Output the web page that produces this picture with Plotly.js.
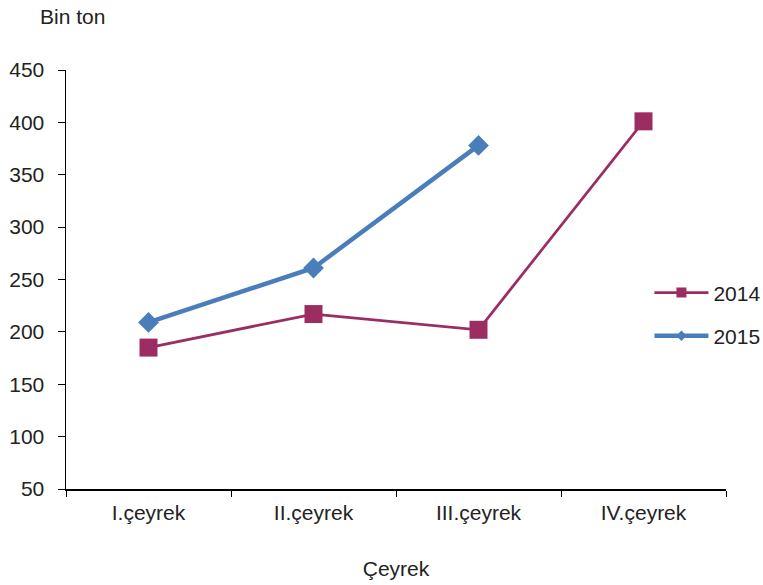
<!DOCTYPE html>
<html>
<head>
<meta charset="utf-8">
<script src="https://cdn.plot.ly/plotly-3.0.1.min.js"></script>
<style>html,body{margin:0;padding:0;background:#fff}#chart{width:763px;height:585px}</style>
</head>
<body>
<div id="chart"></div>
<script>
var categories = ["I.çeyrek", "II.çeyrek", "III.çeyrek", "IV.çeyrek"];
var values2014 = [185, 217, 202, 401];
var values2015 = [209, 261, 378];
var yTicks = [50, 100, 150, 200, 250, 300, 350, 400, 450];

var font = "Liberation Sans, Arial, sans-serif";
var c2014 = "#9B2D62", c2015 = "#4A7EBB";
var traces = [
  {
    x: categories, y: values2014, name: "2014", type: "scatter", mode: "lines+markers",
    line: {color: c2014, width: 2.7},
    marker: {symbol: "square", size: 18, color: c2014},
    showlegend: false
  },
  {
    x: categories.slice(0, values2015.length), y: values2015, name: "2015", type: "scatter", mode: "lines+markers",
    line: {color: c2015, width: 4.5},
    marker: {symbol: "diamond", size: 16, color: c2015},
    showlegend: false
  },
  {
    x: [null], y: [null], name: "2014", type: "scatter", mode: "lines+markers",
    line: {color: c2014, width: 2.7},
    marker: {symbol: "square", size: 10, color: c2014},
    legend: "legend"
  },
  {
    x: [null], y: [null], name: "2015", type: "scatter", mode: "lines+markers",
    line: {color: c2015, width: 4.5},
    marker: {symbol: "diamond", size: 8, color: c2015},
    legend: "legend2"
  }
];

var legendStyle = {
  x: 0.884, xanchor: "left", yanchor: "middle",
  font: {family: font, size: 21, color: "#222"},
  bgcolor: "rgba(0,0,0,0)", itemwidth: 54
};

var layout = {
  width: 763, height: 585,
  margin: {l: 66, r: 37, t: 70, b: 96, autoexpand: false},
  paper_bgcolor: "#fff", plot_bgcolor: "#fff",
  font: {family: font, size: 21, color: "#222"},
  showlegend: true,
  legend: Object.assign({}, legendStyle, {y: 0.468}),
  legend2: Object.assign({}, legendStyle, {y: 0.365}),
  xaxis: {
    type: "category", range: [-0.5, 3.5],
    showline: true, linecolor: "#000", linewidth: 1.5,
    ticks: "outside", tickson: "boundaries", ticklen: 6, tickcolor: "#000",
    ticklabelstandoff: 4,
    showgrid: false, zeroline: false,
    tickfont: {family: font, size: 21, color: "#222"},
    title: {text: "Çeyrek", font: {family: font, size: 21, color: "#222"}, standoff: 38}
  },
  yaxis: {
    range: [50, 450], tickvals: yTicks, ticktext: yTicks.map(String),
    showline: true, linecolor: "#000", linewidth: 1.5,
    ticks: "outside", ticklen: 7, tickcolor: "#000",
    ticklabelstandoff: 9,
    showgrid: false, zeroline: false,
    tickfont: {family: font, size: 21, color: "#222"}
  },
  annotations: [{
    text: "Bin ton", xref: "paper", yref: "paper", x: -0.043, y: 1.0, yshift: 54,
    xanchor: "left", yanchor: "middle", showarrow: false,
    font: {family: font, size: 21, color: "#222"}
  }]
};

Plotly.newPlot("chart", traces, layout, {displayModeBar: false, staticPlot: true});
</script>
</body>
</html>
